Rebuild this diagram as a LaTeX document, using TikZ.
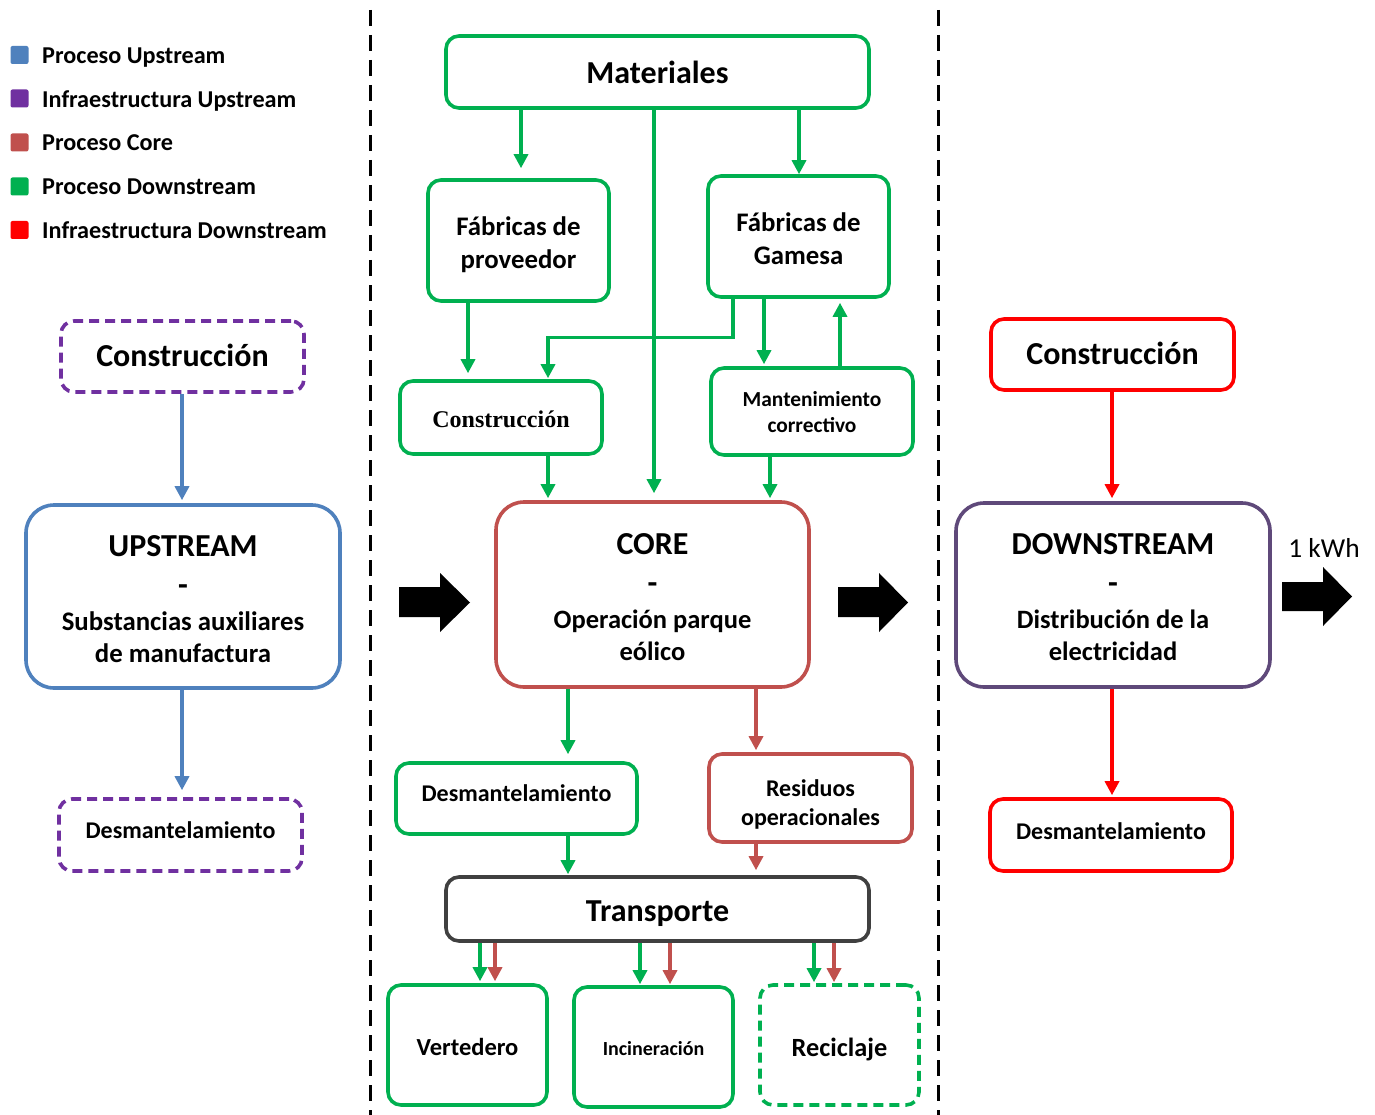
\documentclass[tikz,border=0pt]{standalone}
\usepackage{fontspec}
\setmainfont{Carlito}
\newfontfamily\tnr{Liberation Serif}
\usetikzlibrary{arrows.meta}
\definecolor{cU}{HTML}{4F81BD}
\definecolor{cP}{HTML}{7030A0}
\definecolor{cC}{HTML}{C0504D}
\definecolor{cG}{HTML}{00B050}
\definecolor{cR}{HTML}{FF0000}
\definecolor{cD}{HTML}{5F497A}
\definecolor{cT}{HTML}{404040}
\newcommand\fz[2]{\fontsize{#1}{#2}\selectfont}
\tikzset{
  bx/.style={draw, rounded corners=13, line width=3.6, inner sep=0},
  bigbx/.style={bx, rounded corners=28},
  dbx/.style={bx, dash pattern=on 10pt off 6pt},
  tx/.style={inner sep=0, align=center, text=black, font=\bfseries},
  ar/.style={line width=3.3, -{Triangle[width=14,length=14]}},
  sep/.style={line width=3, dash pattern=on 16pt off 9pt, black},
  blk/.style={fill=black},
  lsq/.style={rounded corners=2, minimum size=18, inner sep=0},
  ltx/.style={anchor=base west, inner sep=0, font=\bfseries\fz{24.2}{28}},
}
\begin{document}
\begin{tikzpicture}[x=1pt,y=-1pt]
\useasboundingbox[fill=white] (0,0) rectangle (1375,1115);

% separators
\draw[sep] (370,10) -- (370,1115);
\draw[sep] (938,10) -- (938,1115);

% legend
\node[lsq,fill=cU] (l1) at (19.5,55) {};
\node[lsq,fill=cP] (l2) at (19.5,98.5) {};
\node[lsq,fill=cC] (l3) at (19.5,142.5) {};
\node[lsq,fill=cG] (l4) at (19.5,186.5) {};
\node[lsq,fill=cR] (l5) at (19.5,230) {};
\node[ltx] (t1) at (42,63.5) {Proceso Upstream};
\node[ltx] (t2) at (42,107.5) {Infraestructura Upstream};
\node[ltx] (t3) at (42,151) {Proceso Core};
\node[ltx] (t4) at (42,195) {Proceso Downstream};
\node[ltx] (t5) at (42,238.5) {Infraestructura Downstream};

% upstream column
\node[dbx,draw=cP,minimum width=243,minimum height=71] (lc) at (182.5,356.5) {};
\node[tx,font=\bfseries\fz{32}{36}] (lcT) at ([yshift=1]lc.center) {Construcción};
\node[bigbx,draw=cU,minimum width=314,minimum height=183] (up) at (183,596.5) {};
\node[tx,font=\bfseries\fz{26.8}{32}] (upT) at ([yshift=-3]up.center)
  {{\fz{32}{32}UPSTREAM}\\[7pt] {\fz{32}{32}-}\\[3pt] Substancias auxiliares\\ de manufactura};
\node[dbx,draw=cP,minimum width=243,minimum height=72] (ld) at (180.5,835) {};
\node[tx,font=\bfseries\fz{24}{27}] (ldT) at ([yshift=5]ld.center) {Desmantelamiento};
\draw[ar,cU] ([xshift=-0.5]lc.south) -- ([xshift=-1,yshift=3]up.north);
\draw[ar,cU] ([xshift=-1]up.south) -- ([xshift=1.5,yshift=7]ld.north);

% core column
\node[bx,draw=cG,minimum width=423,minimum height=72] (mat) at (657.5,72) {};
\node[tx,font=\bfseries\fz{32}{36}] (matT) at (mat.center) {Materiales};
\node[bx,draw=cG,minimum width=181,minimum height=121] (fp) at (518.5,240.5) {};
\node[tx,font=\bfseries\fz{26.8}{33}] (fpT) at ([yshift=-4]fp.center) {Fábricas de\\proveedor};
\node[bx,draw=cG,minimum width=181,minimum height=121] (fg) at (798.5,236.5) {};
\node[tx,font=\bfseries\fz{26.8}{33}] (fgT) at ([yshift=-2]fg.center) {Fábricas de\\Gamesa};
\node[bx,draw=cG,minimum width=202,minimum height=73] (cc) at (501,417.5) {};
\node[tx,font=\tnr\bfseries\fz{24}{28}] (ccT) at ([yshift=-2]cc.center) {Construcción};
\node[bx,draw=cG,minimum width=202,minimum height=87] (mc) at (812,411.5) {};
\node[tx,font=\bfseries\fz{21.4}{26}] (mcT) at ([yshift=-1]mc.center) {Mantenimiento\\correctivo};
\node[bigbx,draw=cC,minimum width=313,minimum height=185] (core) at (652.5,594.5) {};
\node[tx,font=\bfseries\fz{26.5}{32}] (coreT) at ([yshift=-3]core.center)
  {{\fz{32}{32}CORE}\\[7pt] {\fz{32}{32}-}\\[3pt] Operación parque\\ eólico};
\node[bx,draw=cG,minimum width=241,minimum height=71] (dsm) at (516.5,798.5) {};
\node[tx,font=\bfseries\fz{24}{27}] (dsmT) at ([yshift=5]dsm.center) {Desmantelamiento};
\node[bx,draw=cC,minimum width=203,minimum height=88] (res) at (810.5,798) {};
\node[tx,font=\bfseries\fz{24}{29}] (resT) at ([yshift=-6]res.center) {Residuos\\operacionales};
\node[bx,draw=cT,minimum width=423,minimum height=64] (tr) at (657.5,909) {};
\node[tx,font=\bfseries\fz{32}{36}] (trT) at ([yshift=-5]tr.center) {Transporte};
\node[bx,draw=cG,minimum width=159,minimum height=120] (ver) at (467.5,1045) {};
\node[tx,font=\bfseries\fz{24.5}{28}] (verT) at ([yshift=-2]ver.center) {Vertedero};
\node[bx,draw=cG,minimum width=159,minimum height=120] (inc) at (653.5,1047) {};
\node[tx,font=\bfseries\fz{20}{24}] (incT) at ([yshift=-2]inc.center) {Incineración};
\node[dbx,draw=cG,minimum width=159,minimum height=120] (rec) at (839.5,1045) {};
\node[tx,font=\bfseries\fz{26.3}{30}] (recT) at ([yshift=-4]rec.center) {Reciclaje};

\draw[ar,cG] ([xshift=-136.5]mat.south) -- ([xshift=2.5,yshift=10]fp.north);
\draw[ar,cG] ([xshift=141.5]mat.south) -- ([xshift=0.5]fg.north);
\draw[ar,cG] ([xshift=-3.5]mat.south) -- ([xshift=1.5,yshift=7]core.north);
\draw[ar,cG] ([xshift=-50.5]fp.south) -- ([xshift=-33,yshift=6]cc.north);
\draw[ar,cG] ([xshift=-65.5]fg.south) -- ++(0,39) -| ([xshift=47,yshift=1]cc.north);
\draw[ar,cG] ([xshift=-34.5]fg.south) -- ([xshift=-48,yshift=2]mc.north);
\draw[ar,cG] ([xshift=28]mc.north) -- ([xshift=41.5,yshift=-4]fg.south);
\draw[ar,cG] ([xshift=47]cc.south) -- ([xshift=-104.5,yshift=2]core.north);
\draw[ar,cG] ([xshift=-42]mc.south) -- ([xshift=117.5,yshift=2]core.north);
\draw[ar,cG] ([xshift=-84.5]core.south) -- ([xshift=51.5,yshift=7]dsm.north);
\draw[ar,cC] ([xshift=103.5]core.south) -- ([xshift=-54.5,yshift=2]res.north);
\draw[ar,cG] ([xshift=51.5]dsm.south) -- ([xshift=-89.5,yshift=1]tr.north);
\draw[ar,cC] ([xshift=-54.5]res.south) -- ([xshift=98.5,yshift=5]tr.north);
\draw[ar,cG] ([xshift=-177.5]tr.south) -- ([xshift=12.5,yshift=2]ver.north);
\draw[ar,cC] ([xshift=-162.5]tr.south) -- ([xshift=27.5,yshift=2]ver.north);
\draw[ar,cG] ([xshift=-17.5]tr.south) -- ([xshift=-13.5,yshift=1]inc.north);
\draw[ar,cC] ([xshift=12.5]tr.south) -- ([xshift=16.5,yshift=1]inc.north);
\draw[ar,cG] ([xshift=156.5]tr.south) -- ([xshift=-25.5,yshift=1]rec.north);
\draw[ar,cC] ([xshift=176.5]tr.south) -- ([xshift=-5.5,yshift=1]rec.north);

% downstream column
\node[bx,draw=cR,minimum width=243,minimum height=71] (rc) at (1112.5,354.5) {};
\node[tx,font=\bfseries\fz{32}{36}] (rcT) at ([yshift=1]rc.center) {Construcción};
\node[bigbx,draw=cD,minimum width=314,minimum height=184] (dn) at (1113,595) {};
\node[tx,font=\bfseries\fz{26.5}{32}] (dnT) at ([yshift=-2.5]dn.center)
  {{\fz{32}{32}DOWNSTREAM}\\[7pt] {\fz{32}{32}-}\\[3pt] Distribución de la\\ electricidad};
\node[bx,draw=cR,minimum width=242,minimum height=72] (rd) at (1111,835) {};
\node[tx,font=\bfseries\fz{24}{27}] (rdT) at ([yshift=4]rd.center) {Desmantelamiento};
\draw[ar,cR] ([xshift=-0.5]rc.south) -- ([xshift=-1,yshift=3]dn.north);
\draw[ar,cR] ([xshift=-1]dn.south) -- ([xshift=1,yshift=2]rd.north);

% block arrows
\fill[blk] (399,587) -- (440,587) -- (440,573) -- (470,602.5) -- (440,632) -- (440,617) -- (399,617) -- cycle;
\fill[blk] (838,587) -- (879,587) -- (879,573) -- (908,602.5) -- (879,632) -- (879,617) -- (838,617) -- cycle;
\fill[blk] (1282,582) -- (1323,582) -- (1323,567) -- (1352,596.5) -- (1323,626) -- (1323,611) -- (1282,611) -- cycle;
\node[font=\fz{27.4}{30}, inner sep=0] (kwh) at (1324,548) {1 kWh};
\end{tikzpicture}
\end{document}
